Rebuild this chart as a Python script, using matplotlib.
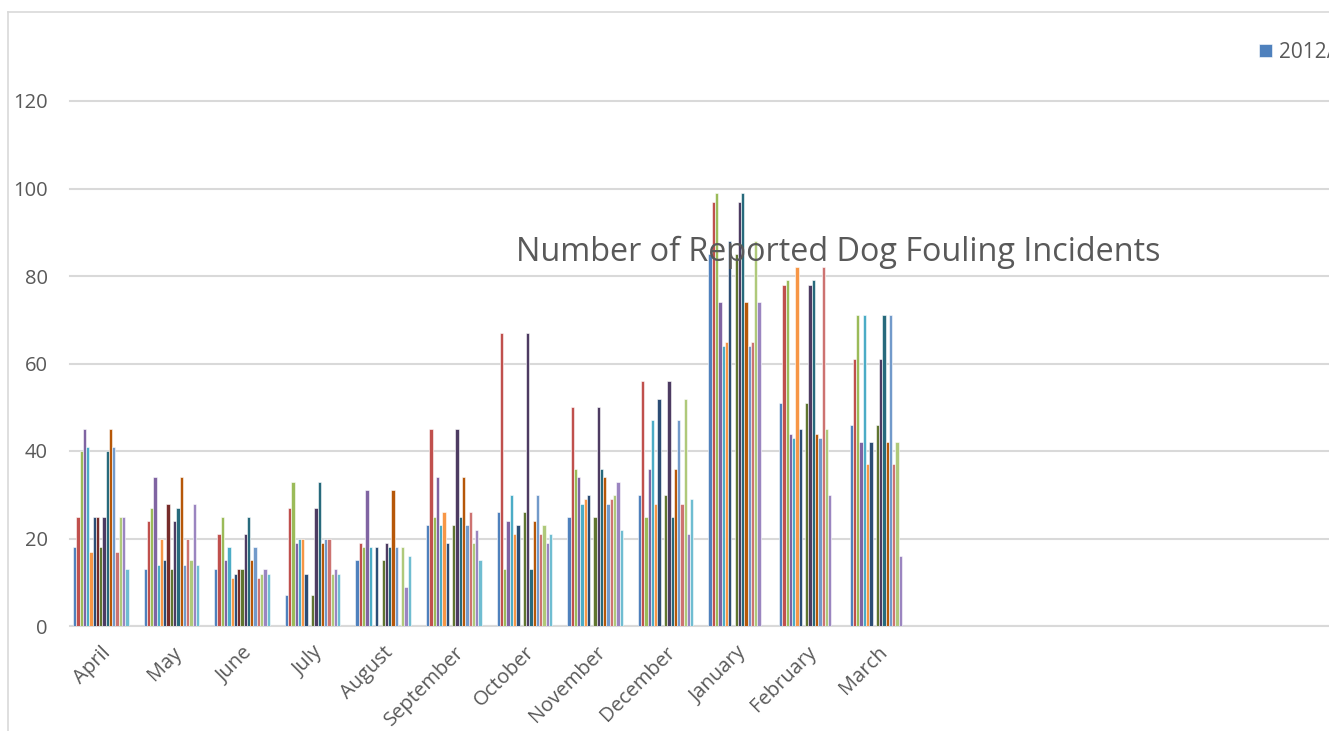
import numpy as np
import matplotlib
matplotlib.use("Agg")
import matplotlib.pyplot as plt
from matplotlib.lines import Line2D

plt.rcParams["font.family"] = ["Open Sans", "DejaVu Sans"]

nan = np.nan

months = ["April", "May", "June", "July", "August", "September",
          "October", "November", "December", "January", "February", "March"]

# one value per series for each month (nan = no report)
april = [18, 25, 40, 45, 41, 17, 25, 25, 18, 25, 40, 45, 41, 17, 25, 25, 13]
may = [13, 24, 27, 34, 14, 20, 15, 28, 13, 24, 27, 34, 14, 20, 15, 28, 14]
june = [13, 21, 25, 15, 18, 11, 12, 13, 13, 21, 25, 15, 18, 11, 12, 13, 12]
july = [7, 27, 33, 19, 20, 20, 12, nan, 7, 27, 33, 19, 20, 20, 12, 13, 12]
august = [15, 19, 18, 31, 18, nan, 18, nan, 15, 19, 18, 31, 18, nan, 18, 9, 16]
september = [23, 45, 25, 34, 23, 26, 19, nan, 23, 45, 25, 34, 23, 26, 19, 22, 15]
october = [26, 67, 13, 24, 30, 21, 23, nan, 26, 67, 13, 24, 30, 21, 23, 19, 21]
november = [25, 50, 36, 34, 28, 29, 30, nan, 25, 50, 36, 34, 28, 29, 30, 33, 22]
december = [30, 56, 25, 36, 47, 28, 52, nan, 30, 56, 25, 36, 47, 28, 52, 21, 29]
january = [85, 97, 99, 74, 64, 65, 88, nan, 85, 97, 99, 74, 64, 65, 88, 74, nan]
february = [51, 78, 79, 44, 43, 82, 45, nan, 51, 78, 79, 44, 43, 82, 45, 30, nan]
march = [46, 61, 71, 42, 71, 37, 42, nan, 46, 61, 71, 42, 71, 37, 42, 16, nan]

series_names = ["2012/13"] + ["Series %d" % i for i in range(2, 18)]

colors = ["#4F81BD", "#C0504D", "#9BBB59", "#8064A2", "#4BACC6", "#F79646",
          "#2C4D75", "#772C2A", "#5F7530", "#4D3B62", "#276A7C", "#B65708",
          "#729ACA", "#CD7371", "#AFC97A", "#9B85C0", "#6FBDD1"]

data = np.array([april, may, june, july, august, september, october,
                 november, december, january, february, march], dtype=float)

fig = plt.figure(figsize=(13.29, 7.31), dpi=100)
ax = fig.add_axes([70 / 1329, 105 / 731, 1265 / 1329, 525 / 731])

x = np.arange(len(months))
n = data.shape[1]
step = 0.0463
bars = []
for i in range(n):
    b = ax.bar(x + (i - (n - 1) / 2) * step, data[:, i], width=step,
               color=colors[i], edgecolor="white", linewidth=0.4,
               label=series_names[i], zorder=3)
    bars.append(b)

ax.set_xlim(-0.436, 17.48)
ax.set_ylim(0, 120)
ax.set_yticks(range(0, 121, 20))
ax.yaxis.grid(True, color="#D9D9D9", linewidth=1.5, zorder=0)
ax.set_axisbelow(True)
for s in ax.spines.values():
    s.set_visible(False)
ax.axhline(0, color="#D9D9D9", linewidth=1.5, zorder=2)
for gl in ax.get_ygridlines():
    gl.set_clip_on(False)

ax.set_xticks(x)
ax.set_xticklabels(months, rotation=45, ha="right", va="top",
                   rotation_mode="anchor")
ax.tick_params(axis="both", length=0, labelsize=14.5, labelcolor="#595959")
ax.tick_params(axis="y", pad=16)
ax.tick_params(axis="x", pad=12)

# title sits over the plot area
fig.text(0.631, 1 - 252 / 731, "Number of Reported Dog Fouling Incidents",
         ha="center", va="center", fontsize=23.3, color="#595959", zorder=10)

fig.legend(handles=[bars[0]], labels=[series_names[0]], loc="center left",
           bbox_to_anchor=(1249 / 1329, 1 - 52 / 731), frameon=False,
           fontsize=15, handlelength=0.6, handleheight=0.6,
           handletextpad=0.35, borderpad=0, labelcolor="#595959")

# chart area border
fig.add_artist(Line2D([8 / 1329, 1.1], [1 - 12 / 731, 1 - 12 / 731],
                      transform=fig.transFigure, color="#D9D9D9", linewidth=1.2))
fig.add_artist(Line2D([8 / 1329, 8 / 1329], [1 - 12 / 731, -0.1],
                      transform=fig.transFigure, color="#D9D9D9", linewidth=1.2))

fig.savefig("out.png", dpi=100)
